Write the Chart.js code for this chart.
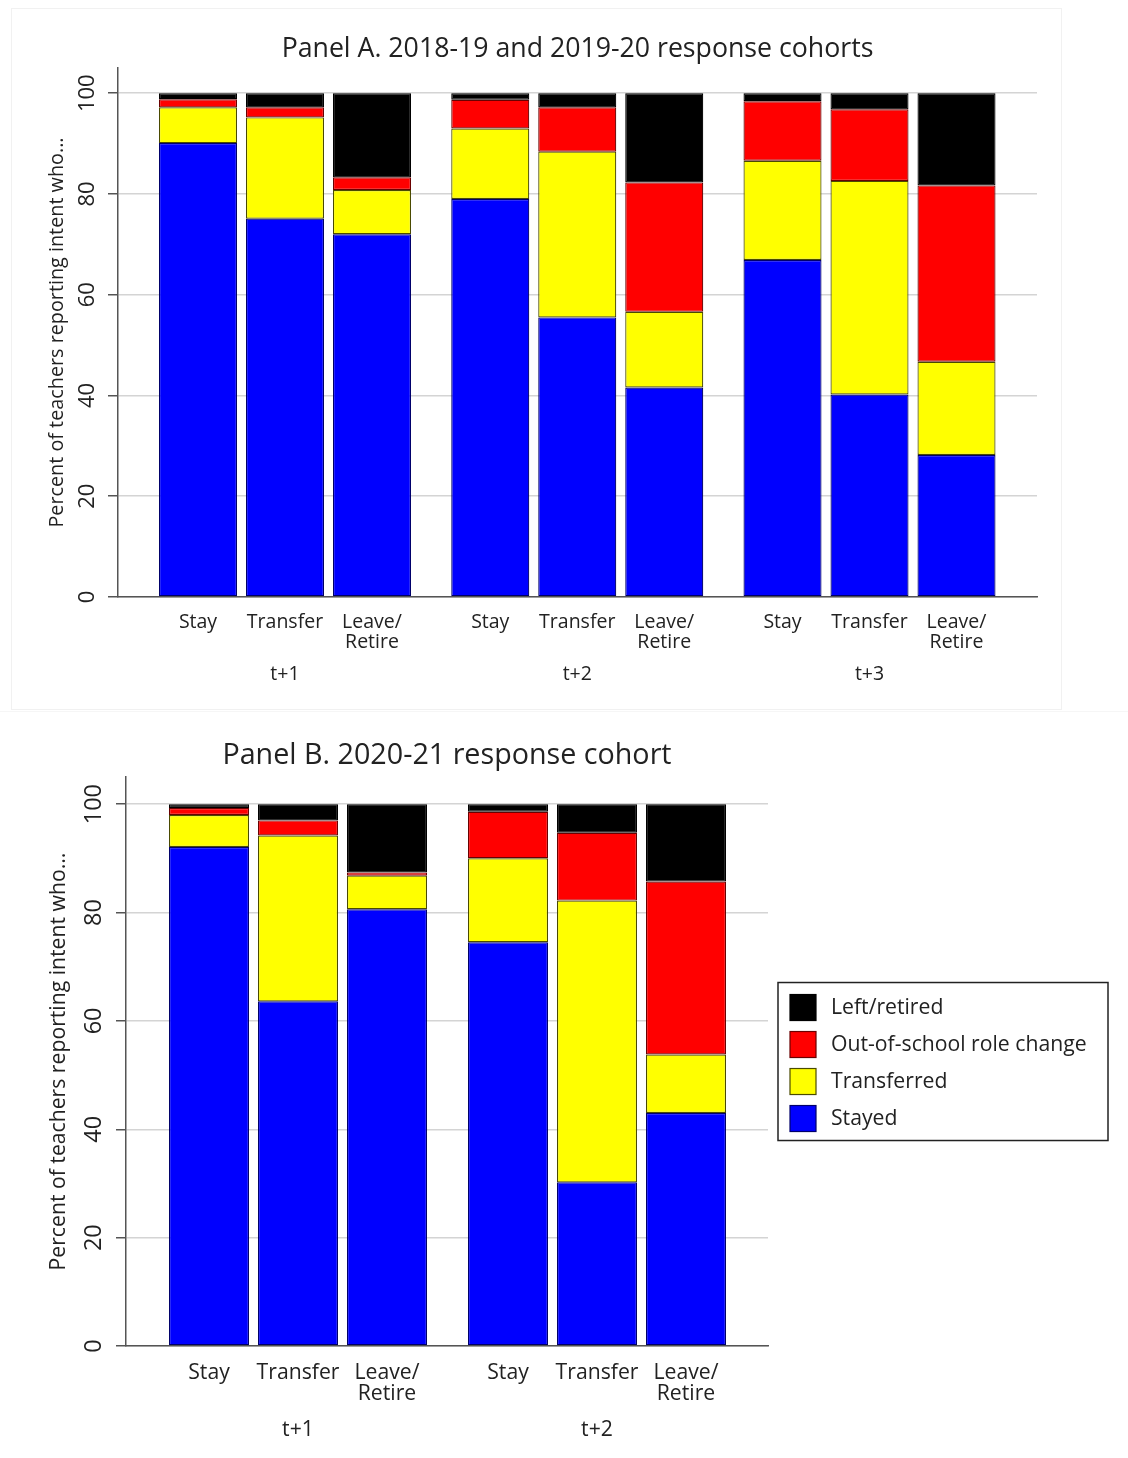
<!DOCTYPE html>
<html>
<head>
<meta charset="utf-8">
<script src="https://cdn.jsdelivr.net/npm/chart.js@4.4.1/dist/chart.umd.min.js"></script>
<style>
  html, body { margin: 0; padding: 0; background: #fff; }
  body { position: relative; width: 1128px; height: 1458px; overflow: hidden; }
  #panelA { position: absolute; left: 11px; top: 8px; width: 1051px; height: 702px; border: 1px solid #f1f1f1; box-sizing: border-box; }
  #panelB { position: absolute; left: 0; top: 715px; width: 1128px; height: 743px; }
  .sep { position: absolute; left: 0; top: 711px; width: 1128px; height: 1px; background: #f6f6f6; }
</style>
</head>
<body>
<div id="panelA"><canvas id="chartA"></canvas></div>
<div class="sep"></div>
<div id="panelB"><canvas id="chartB"></canvas></div>
<script>
const groupsA = ['t+1', 't+2', 't+3'];
const groupsB = ['t+1', 't+2'];
const intentLabels = [['Stay'], ['Transfer'], ['Leave/', 'Retire']];
const outcomeLabels = ['Stayed', 'Transferred', 'Out-of-school role change', 'Left/retired'];
const yTicks = [0, 20, 40, 60, 80, 100];

// rows = stated intent (Stay, Transfer, Leave/Retire), columns = year after survey
const stayedA      = [[90.1, 79.0, 66.9], [75.1, 55.5, 40.2], [72.0, 41.6, 28.2]];
const transferredA = [[7.1, 14.0, 19.7], [20.1, 32.9, 42.4], [8.8, 15.0, 18.5]];
const roleChangeA  = [[1.6, 5.7, 11.8], [2.0, 8.8, 14.2], [2.5, 25.7, 35.0]];
const leftA        = [[1.2, 1.3, 1.6], [2.8, 2.8, 3.2], [16.7, 17.7, 18.3]];

const stayedB      = [[92.1, 74.5], [63.6, 30.2], [80.6, 43.0]];
const transferredB = [[5.9, 15.5], [30.6, 52.0], [6.2, 10.8]];
const roleChangeB  = [[1.3, 8.6], [2.8, 12.5], [0.6, 31.9]];
const leftB        = [[0.7, 1.4], [3.0, 5.3], [12.6, 14.3]];

const outcomeFill = ['#0000ff', '#ffff00', '#ff0000', '#000000'];
const outcomeEdge = ['#00006a', '#4a4a00', '#6a0000', '#000000'];

Chart.defaults.font.family = "'Open Sans', 'Noto Sans', sans-serif";
Chart.defaults.color = '#222';

function buildDatasets(groups, series) {
    const sets = [];
    series.forEach((rows, o) => {
        intentLabels.forEach((lines, i) => {
            sets.push({
                label: outcomeLabels[o],
                stack: lines.join(''),
                data: groups.map((g, gi) => ({ x: gi + 1, y: rows[i][gi] })),
                backgroundColor: outcomeFill[o],
                borderColor: outcomeEdge[o],
                borderWidth: 1.2,
                borderSkipped: false,
            });
        });
    });
    return sets;
}

// intent names under every bar
const intentTicks = {
    id: 'intentTicks',
    afterDraw(chart, args, opts) {
        const ctx = chart.ctx;
        const bottom = chart.chartArea.bottom;
        ctx.save();
        ctx.font = opts.size + "px 'Open Sans'";
        ctx.fillStyle = '#222';
        ctx.textAlign = 'center';
        ctx.textBaseline = 'middle';
        intentLabels.forEach((lines, i) => {
            chart.getDatasetMeta(i).data.forEach((bar) => {
                lines.forEach((t, k) => ctx.fillText(t, bar.x, bottom + opts.first + k * opts.lineGap));
            });
        });
        ctx.restore();
    },
};

// framed legend to the right of panel B
const boxedLegend = {
    id: 'boxedLegend',
    afterDraw(chart, args, opts) {
        if (!opts.show) return;
        const { ctx, chartArea } = chart;
        const order = outcomeLabels.map((label, o) => o).reverse();
        const h = opts.rowGap * order.length + opts.pad * 2;
        const left = chartArea.right + opts.gap;
        const top = (chartArea.top + chartArea.bottom) / 2 - h / 2;
        ctx.save();
        ctx.strokeStyle = '#222';
        ctx.lineWidth = 1.5;
        ctx.strokeRect(left, top, opts.width, h);
        ctx.font = opts.size + "px 'Open Sans'";
        ctx.textBaseline = 'middle';
        ctx.textAlign = 'left';
        order.forEach((o, k) => {
            const cy = top + opts.pad + 1.5 + opts.rowGap * (k + 0.5);
            ctx.fillStyle = outcomeFill[o];
            ctx.fillRect(left + 12, cy - 13, 26, 26);
            ctx.strokeStyle = outcomeEdge[o];
            ctx.lineWidth = 1.2;
            ctx.strokeRect(left + 12, cy - 13, 26, 26);
            ctx.fillStyle = '#222';
            ctx.fillText(outcomeLabels[o], left + 53, cy);
        });
        ctx.restore();
    },
};

function makePanel(id, cfg) {
    return new Chart(document.getElementById(id).getContext('2d'), {
        type: 'bar',
        data: { datasets: buildDatasets(cfg.groups, cfg.series) },
        plugins: [intentTicks, boxedLegend],
        options: {
            responsive: true,
            maintainAspectRatio: false,
            animation: false,
            layout: { padding: { left: 0, right: cfg.rightPad, top: 0, bottom: 0 } },
            datasets: { bar: { categoryPercentage: cfg.catPct, barPercentage: cfg.barPct } },
            plugins: {
                legend: { display: false },
                tooltip: { enabled: false },
                title: {
                    display: true,
                    text: cfg.title,
                    fullSize: false,
                    color: '#222',
                    font: { size: cfg.titleSize, weight: 'normal' },
                    padding: { top: cfg.titleTop, bottom: cfg.titleBottom },
                },
                intentTicks: { size: cfg.tickSize, first: cfg.subFirst, lineGap: cfg.subGap },
                boxedLegend: { show: cfg.legend, gap: 10, width: 330, rowGap: 37, pad: 5, size: 21.2 },
            },
            scales: {
                x: {
                    type: 'linear',
                    min: cfg.xMin,
                    max: cfg.xMax,
                    offset: false,
                    stacked: true,
                    afterBuildTicks: (s) => { s.ticks = cfg.groups.map((g, i) => ({ value: i + 1 })); },
                    afterFit: (s) => { s.height = cfg.xHeight; },
                    ticks: {
                        callback: (v) => cfg.groups[Math.round(v) - 1],
                        padding: cfg.groupPad,
                        font: { size: cfg.tickSize },
                        maxRotation: 0,
                    },
                    grid: { drawOnChartArea: false, drawTicks: false },
                    border: { color: '#555', width: 1.5 },
                },
                y: {
                    min: 0,
                    max: 105,
                    stacked: true,
                    afterBuildTicks: (s) => { s.ticks = yTicks.map((v) => ({ value: v })); },
                    afterFit: (s) => { s.width = cfg.yWidth; },
                    ticks: {
                        minRotation: 90,
                        maxRotation: 90,
                        crossAlign: 'center',
                        padding: cfg.yPad,
                        font: { size: cfg.yTickSize },
                    },
                    grid: { color: '#d4d4d4', lineWidth: 1.5, tickColor: '#555', tickLength: 10 },
                    border: { color: '#555', width: 1.5 },
                    title: {
                        display: true,
                        text: 'Percent of teachers reporting intent who...',
                        font: { size: cfg.yTitleSize },
                        padding: { top: cfg.yTitleTop, bottom: 0 },
                    },
                },
            },
        },
    });
}

makePanel('chartA', {
    groups: groupsA,
    series: [stayedA, transferredA, roleChangeA, leftA],
    title: 'Panel A. 2018-19 and 2019-20 response cohorts',
    titleSize: 26.7, titleTop: 24, titleBottom: 3,
    rightPad: 24, xMin: 0.4286, xMax: 3.5731,
    catPct: 0.893, barPct: 0.897,
    xHeight: 112, groupPad: 66, tickSize: 19.5, subFirst: 25, subGap: 20,
    yWidth: 106, yPad: 1, yTickSize: 22, yTitleSize: 19.8, yTitleTop: 33,
    legend: false,
});

makePanel('chartB', {
    groups: groupsB,
    series: [stayedB, transferredB, roleChangeB, leftB],
    title: 'Panel B. 2020-21 response cohort',
    titleSize: 28.7, titleTop: 23.8, titleBottom: 3.8,
    rightPad: 360, xMin: 0.4247, xMax: 2.5719,
    catPct: 0.893, barPct: 0.899,
    xHeight: 112, groupPad: 71, tickSize: 21.2, subFirst: 27, subGap: 21,
    yWidth: 126, yPad: 2, yTickSize: 23.5, yTitleSize: 21.2, yTitleTop: 46.3,
    legend: true,
});
</script>
</body>
</html>
